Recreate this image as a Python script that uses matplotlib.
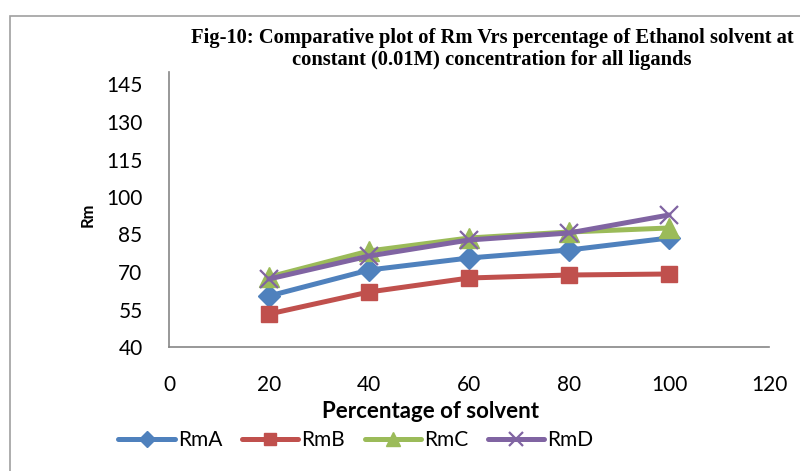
import matplotlib

matplotlib.use("Agg")
import matplotlib.pyplot as plt  # noqa: E402
from matplotlib.patches import Rectangle  # noqa: E402

percent = [20, 40, 60, 80, 100]
rm_a = [60.4, 70.8, 75.6, 78.8, 83.6]
rm_b = [53.2, 62.0, 67.6, 68.8, 69.2]
rm_c = [68.0, 78.4, 83.6, 86.0, 87.6]
rm_d = [67.2, 76.4, 82.8, 85.6, 92.8]
series_names = ["RmA", "RmB", "RmC", "RmD"]
x_ticks = [0, 20, 40, 60, 80, 100, 120]
y_ticks = [40, 55, 70, 85, 100, 115, 130, 145]

title = ("Fig-10: Comparative plot of Rm Vrs percentage of Ethanol solvent at\n"
         "constant (0.01M) concentration for all ligands")

plt.rcParams["font.family"] = ["Lato", "DejaVu Sans"]

fig = plt.figure(figsize=(8, 4.71), dpi=100)
ax = fig.add_axes([169 / 800, 1 - 347 / 471, 600 / 800, 275 / 471])

# outer chart border (Excel chart area)
fig.patches.append(Rectangle((10 / 800, -0.1), 1.0, 1 - 16 / 471 + 0.1, transform=fig.transFigure,
                             fill=False, edgecolor="#a0a0a0", linewidth=1.2))

styles = [
    dict(color="#4F81BD", marker="D", markersize=11),
    dict(color="#C0504D", marker="s", markersize=12),
    dict(color="#9BBB59", marker="^", markersize=14),
    dict(color="#8064A2", marker="x", markersize=13, markeredgewidth=1.6),
]
for name, values, style in zip(series_names, [rm_a, rm_b, rm_c, rm_d], styles):
    ax.plot(percent, values, label=name, linewidth=3.6, solid_capstyle="round", **style)

ax.set_xlim(0, 120)
ax.set_ylim(40, 150)
ax.set_xticks(x_ticks)
ax.set_yticks(y_ticks)
ax.tick_params(length=0, labelsize=15)
ax.tick_params(axis="y", pad=19)
ax.tick_params(axis="x", pad=20)
for side in ["top", "right"]:
    ax.spines[side].set_visible(False)
for side in ["left", "bottom"]:
    ax.spines[side].set_color("#868686")
    ax.spines[side].set_linewidth(1.2)

fig.text(88 / 800, 1 - 215 / 471, "Rm", rotation=90, fontsize=12, fontweight="bold",
         ha="center", va="center")
fig.text(430 / 800, 1 - 412 / 471, "Percentage of solvent", fontsize=16, fontweight="bold",
         ha="center", va="center")
fig.text(492 / 800, 1 - 49 / 471, title, fontsize=14.8, fontweight="bold",
         family="Liberation Serif", ha="center", va="center", linespacing=1.2)

fig.legend(loc="center", bbox_to_anchor=(356 / 800, 1 - 440 / 471), ncol=4, frameon=False,
           fontsize=15, handlelength=2.7, handletextpad=0.15, columnspacing=0.95, markerscale=0.75)

fig.savefig("out.png", dpi=100)
